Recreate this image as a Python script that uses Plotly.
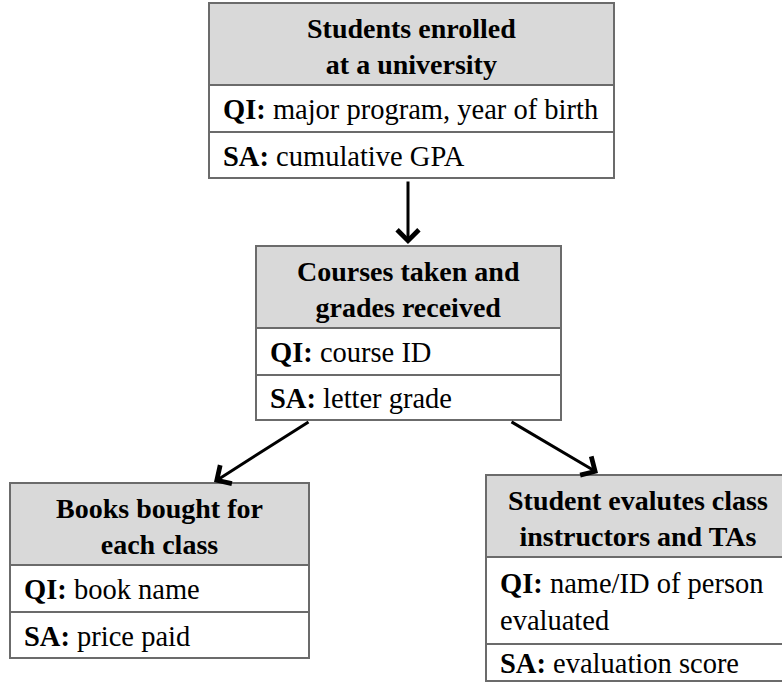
import plotly.graph_objects as go

# diagram content
box_titles = [
    'Students enrolled<br>at a university',
    'Courses taken and<br>grades received',
    'Books bought for<br>each class',
    'Student evalutes class<br>instructors and TAs',
]
qi_fields = [
    'major program, year of birth',
    'course ID',
    'book name',
    'name/ID of person<br>evaluated',
]
sa_fields = [
    'cumulative GPA',
    'letter grade',
    'price paid',
    'evaluation score',
]
links = [(0, 1), (1, 2), (1, 3)]

# geometry in pixels: left, right, top, header bottom, QI bottom, bottom
boxes = [
    (209, 614, 3, 85, 132, 178),
    (256, 561, 246, 328, 375, 420),
    (10, 309, 483, 565, 612, 658),
    (486, 790, 475, 557, 644, 681),
]
# arrow start / end points for each link
arrow_pts = [
    ((408, 180), (408, 244)),
    ((310, 421), (214, 482)),
    ((510, 421), (598, 473)),
]

FONT = 'Liberation Serif'
BORDER = '#6b6b6b'
HEADER_FILL = '#d9d9d9'

fig = go.Figure()
shapes = []
annotations = []

for i, (x0, x1, y0, yh, yq, y1) in enumerate(boxes):
    for top, bottom, fill in [(y0, yh, HEADER_FILL), (yh, yq, 'white'), (yq, y1, 'white')]:
        shapes.append(dict(type='rect', x0=x0, x1=x1, y0=top, y1=bottom,
                           fillcolor=fill, line=dict(color=BORDER, width=2), layer='below'))
    annotations.append(dict(x=(x0 + x1) / 2, y=(y0 + yh) / 2 + 2, text='<b>' + box_titles[i] + '</b>',
                            showarrow=False, xanchor='center', yanchor='middle',
                            font=dict(family=FONT, size=28, color='black')))
    annotations.append(dict(x=x0 + 12, y=(yh + yq) / 2 + 1, text='<b>QI:</b> ' + qi_fields[i],
                            showarrow=False, xanchor='left', yanchor='middle', align='left',
                            font=dict(family=FONT, size=28.5, color='black')))
    annotations.append(dict(x=x0 + 12, y=(yq + y1) / 2 + 1, text='<b>SA:</b> ' + sa_fields[i],
                            showarrow=False, xanchor='left', yanchor='middle', align='left',
                            font=dict(family=FONT, size=28.5, color='black')))

for (a, b), ((sx, sy), (ex, ey)) in zip(links, arrow_pts):
    annotations.append(dict(x=ex, y=ey, ax=sx, ay=sy, xref='x', yref='y', axref='x', ayref='y',
                            text='', showarrow=True, arrowhead=4, arrowsize=1.4,
                            arrowwidth=3, arrowcolor='black'))

fig.update_layout(
    width=782, height=682,
    margin=dict(l=0, r=0, t=0, b=0),
    paper_bgcolor='white', plot_bgcolor='white',
    xaxis=dict(range=[0, 782], visible=False, fixedrange=True),
    yaxis=dict(range=[682, 0], visible=False, fixedrange=True),
    shapes=shapes, annotations=annotations,
    showlegend=False,
)

# drop the default page margin so the diagram sits flush with the window
fig.write_html("out.html", config={'displayModeBar': False},
               post_script="document.body.style.margin='0';document.body.style.overflow='hidden';")
